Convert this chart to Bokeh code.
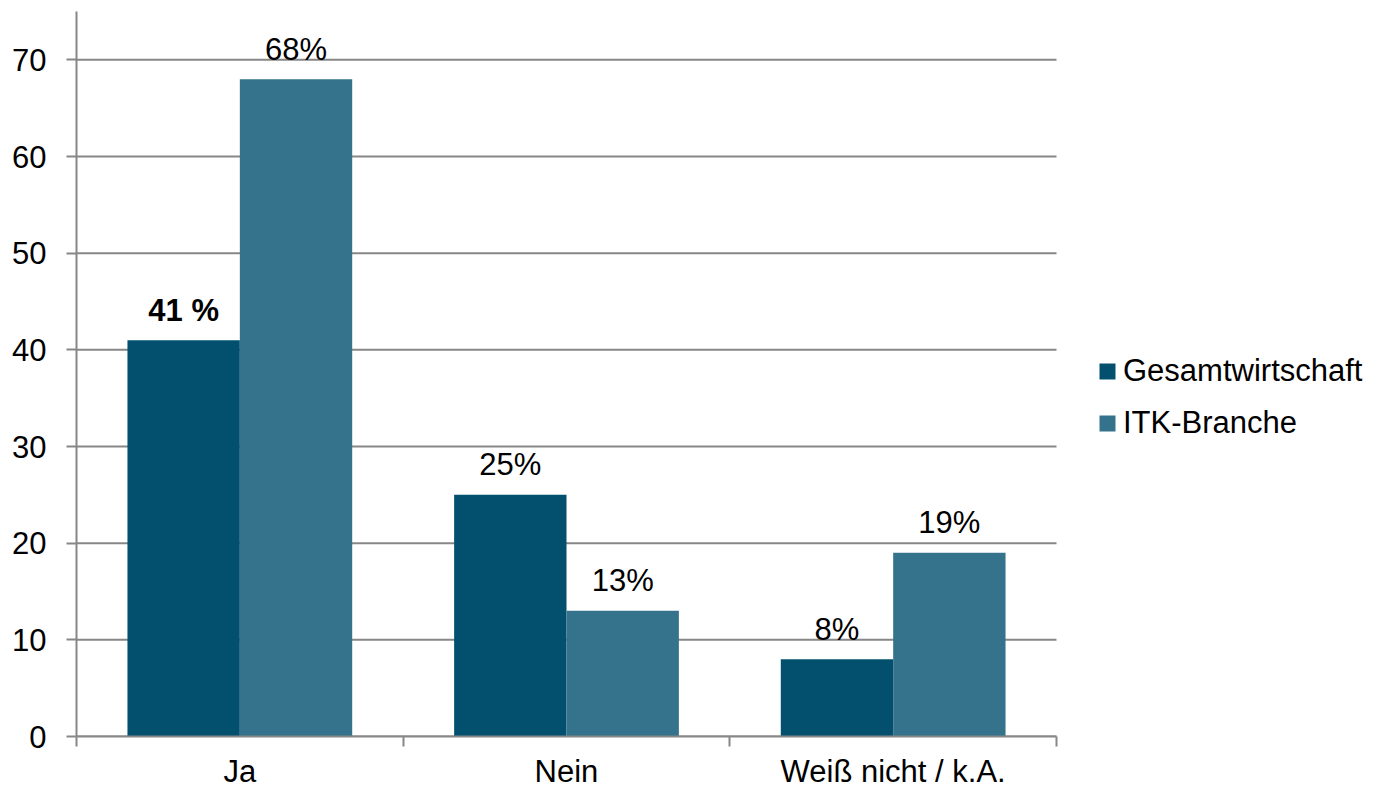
from bokeh.plotting import figure
from bokeh.models import (Range1d, LinearAxis, FixedTicker, ColumnDataSource, Legend, LegendItem)
from bokeh.embed import file_html
from bokeh.resources import INLINE
from bokeh.core.properties import value

categories = ["Ja", "Nein", "Weiß nicht / k.A."]
gesamt = [41, 25, 8]
itk = [68, 13, 19]
gesamt_labels = ["41 %", "25%", "8%"]
itk_labels = ["68%", "13%", "19%"]
gesamt_styles = ["bold", "normal", "normal"]
itk_styles = ["normal", "normal", "normal"]
series_names = ["Gesamtwirtschaft", "ITK-Branche"]
y_ticks = [0, 10, 20, 30, 40, 50, 60, 70]

FONT = "Liberation Sans"
FS = "31px"
GRID = "#878787"
C1 = "#03506e"
C2 = "#35738c"

W, H = 1377, 791
LEFT, TOP, BOTTOM = 76, 11, 52
PLOT_RIGHT = 1056  # pixel where the category axis ends
n = len(categories)
# extend the x range so the legend area lies inside the frame
x_end = n * (W - LEFT) / (PLOT_RIGHT - LEFT)

bw = 0.344
centers = [i + 0.5 for i in range(n)]
src = ColumnDataSource(dict(xg=[c - bw / 2 for c in centers], xi=[c + bw / 2 for c in centers],
                            g=gesamt, i=itk, gl=gesamt_labels, il=itk_labels,
                            gs=gesamt_styles, is_=itk_styles))
grid_src = ColumnDataSource(dict(y=y_ticks, x0=[0] * len(y_ticks), x1=[n] * len(y_ticks)))

p = figure(width=W, height=H, output_backend="svg", toolbar_location=None,
           x_range=Range1d(0, x_end), y_range=Range1d(0, 75),
           x_axis_location=None, y_axis_location=None,
           min_border_left=LEFT, min_border_right=0, min_border_top=TOP, min_border_bottom=BOTTOM)
p.outline_line_color = None
p.background_fill_color = "white"
p.border_fill_color = "white"
p.xgrid.grid_line_color = None
p.ygrid.grid_line_color = None

# horizontal gridlines limited to the category area
p.segment(x0="x0", x1="x1", y0="y", y1="y", source=grid_src, line_color=GRID, line_width=2)

r1 = p.vbar(x="xg", top="g", width=bw, source=src, fill_color=C1, line_color=None)
r2 = p.vbar(x="xi", top="i", width=bw, source=src, fill_color=C2, line_color=None)

p.text(x="xg", y="g", text="gl", source=src,
       text_font=value(FONT), text_font_size=FS, text_font_style="gs",
       text_align="center", text_baseline="middle", y_offset=-30, text_color="black")
p.text(x="xi", y="i", text="il", source=src,
       text_font=value(FONT), text_font_size=FS, text_font_style="is_",
       text_align="center", text_baseline="middle", y_offset=-30, text_color="black")

# y axis
yax = LinearAxis(ticker=FixedTicker(ticks=y_ticks))
yax.axis_line_color = GRID
yax.axis_line_width = 2
yax.major_tick_line_color = GRID
yax.major_tick_line_width = 2
yax.major_tick_out = 10
yax.major_tick_in = 0
yax.minor_tick_line_color = None
yax.major_label_text_font = FONT
yax.major_label_text_font_size = FS
yax.major_label_text_color = "black"
yax.major_label_standoff = 20
p.add_layout(yax, "left")

# x tick axis at category boundaries
bounds = list(range(n + 1))
tax = LinearAxis(ticker=FixedTicker(ticks=bounds), bounds=(0, n))
tax.axis_line_color = GRID
tax.axis_line_width = 2
tax.major_tick_line_color = GRID
tax.major_tick_line_width = 2
tax.major_tick_out = 10
tax.major_tick_in = 0
tax.minor_tick_line_color = None
tax.major_label_overrides = {b: "" for b in bounds}
tax.major_label_text_font_size = "1px"
tax.major_label_standoff = 0
p.add_layout(tax, "below")

cax = LinearAxis(ticker=FixedTicker(ticks=centers), bounds=(0, n))
cax.major_label_overrides = {c: name for c, name in zip(centers, categories)}
cax.axis_line_color = None
cax.major_tick_line_color = None
cax.minor_tick_line_color = None
cax.major_label_text_font = FONT
cax.major_label_text_font_size = FS
cax.major_label_text_color = "black"
cax.major_label_standoff = 1
p.add_layout(cax, "below")

legend = Legend(items=[LegendItem(label=series_names[0], renderers=[r1]),
                       LegendItem(label=series_names[1], renderers=[r2])],
                location=(1021, 295), orientation="vertical")
legend.label_text_font = FONT
legend.label_text_font_size = FS
legend.label_text_color = "black"
legend.glyph_width = 20
legend.glyph_height = 20
legend.label_height = 36
legend.label_standoff = 6
legend.spacing = 16
legend.padding = 0
legend.margin = 0
legend.border_line_color = None
legend.background_fill_alpha = 0
p.add_layout(legend, "center")

open("out.html", "w").write(file_html(p, INLINE))
